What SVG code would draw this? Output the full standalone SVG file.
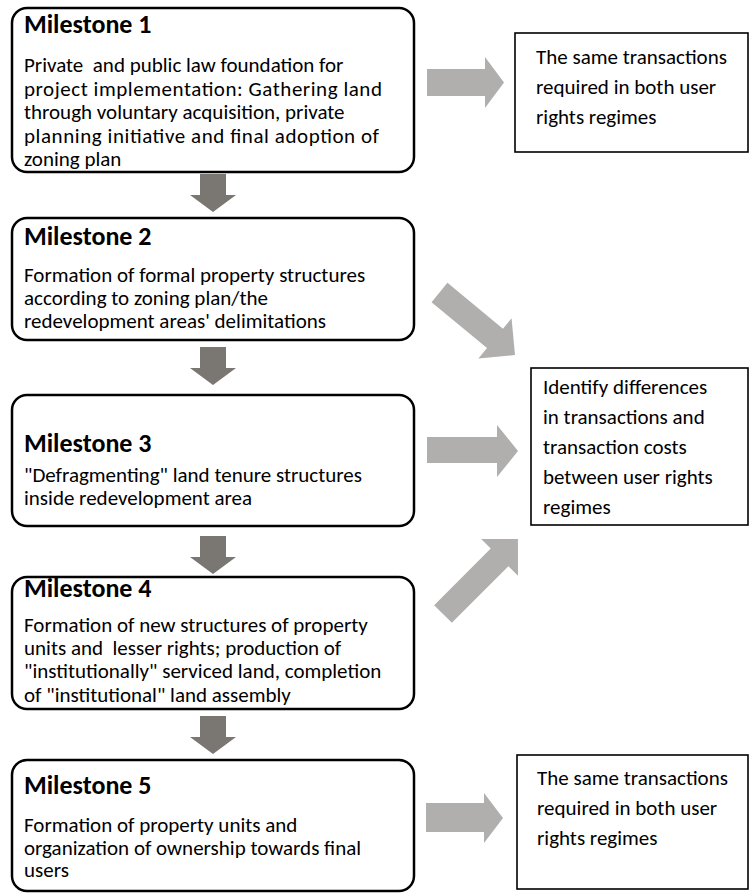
<svg xmlns="http://www.w3.org/2000/svg" width="749" height="894" viewBox="0 0 749 894">
<style>
.ms{fill:#fff;stroke:#000;stroke-width:2.5}
.rb{fill:#fff;stroke:#000;stroke-width:1.6}
.t{font-family:Carlito,Lato,"Open Sans","Liberation Sans",sans-serif;font-size:26px;font-weight:bold;fill:#000}
.b{font-family:Carlito,Lato,"Open Sans","Liberation Sans",sans-serif;font-size:21px;fill:#000}
.r{font-family:Carlito,Lato,"Open Sans","Liberation Sans",sans-serif;font-size:21px;fill:#000}
.da{fill:#7a7672}
.sa{fill:#b0afad}
</style>
<defs>
<path id="down" d="M-13,0 L13,0 L13,21 L23,21 L0,38 L-23,21 L-13,21 Z"/>
</defs>
<g id="connectors">
<use href="#down" class="da" x="213" y="174"/>
<use href="#down" class="da" x="213" y="347"/>
<use href="#down" class="da" x="213" y="536"/>
<use href="#down" class="da" x="213" y="716"/>
<path class="sa" d="M427,69 L485,69 L485,57 L504,82.5 L485,108 L485,96 L427,96 Z"/>
<path class="sa" d="M427,437 L497,437 L497,425 L518,451 L497,477 L497,463 L427,463 Z"/>
<path class="sa" d="M426,803 L484,803 L484,793 L503,818 L484,843 L484,832 L426,832 Z"/>
<path class="sa" transform="translate(439.5,292.5) rotate(39.6)" d="M0,-12.5 L72,-12.5 L72,-26 L98,0 L72,26 L72,12.5 L0,12.5 Z"/>
<path class="sa" transform="translate(443,614) rotate(-45)" d="M0,-12.5 L80,-12.5 L80,-26 L106,0 L80,26 L80,12.5 L0,12.5 Z"/>
</g>
<g id="milestone1">
<rect class="ms" x="12" y="8" width="402" height="164" rx="15"/>
<text class="t" x="24" y="33">Milestone 1</text>
<text class="b" x="24" y="72" xml:space="preserve">Private  and public law foundation for</text>
<text class="b" x="24" y="95.5" textLength="358">project implementation: Gathering land</text>
<text class="b" x="24" y="119">through voluntary acquisition, private</text>
<text class="b" x="24" y="142.5" textLength="355">planning initiative and final adoption of</text>
<text class="b" x="24" y="166">zoning plan</text>
</g>
<g id="milestone2">
<rect class="ms" x="12" y="218" width="402" height="122" rx="15"/>
<text class="t" x="24" y="245">Milestone 2</text>
<text class="b" x="24" y="282">Formation of formal property structures</text>
<text class="b" x="24" y="305">according to zoning plan/the</text>
<text class="b" x="24" y="328">redevelopment areas' delimitations</text>
</g>
<g id="milestone3">
<rect class="ms" x="12" y="395" width="402" height="131" rx="15"/>
<text class="t" x="24" y="452">Milestone 3</text>
<text class="b" x="24" y="482">"Defragmenting" land tenure structures</text>
<text class="b" x="24" y="505">inside redevelopment area</text>
</g>
<g id="milestone4">
<rect class="ms" x="12" y="577" width="402" height="132" rx="15"/>
<text class="t" x="24" y="597">Milestone 4</text>
<text class="b" x="24" y="632">Formation of new structures of property</text>
<text class="b" x="24" y="655" xml:space="preserve">units and  lesser rights; production of</text>
<text class="b" x="24" y="678">"institutionally" serviced land, completion</text>
<text class="b" x="24" y="702">of "institutional" land assembly</text>
</g>
<g id="milestone5">
<rect class="ms" x="12" y="760" width="402" height="131" rx="15"/>
<text class="t" x="24" y="794">Milestone 5</text>
<text class="b" x="24" y="832">Formation of property units and</text>
<text class="b" x="24" y="855">organization of ownership towards final</text>
<text class="b" x="24" y="877">users</text>
</g>
<g id="same1">
<rect class="rb" x="515" y="33" width="233" height="119"/>
<text class="r" x="536" y="64">The same transactions</text>
<text class="r" x="536" y="94">required in both user</text>
<text class="r" x="536" y="124">rights regimes</text>
</g>
<g id="differences">
<rect class="rb" x="531" y="368" width="217" height="157"/>
<text class="r" x="543" y="394">Identify differences</text>
<text class="r" x="543" y="424">in transactions and</text>
<text class="r" x="543" y="454">transaction costs</text>
<text class="r" x="543" y="484">between user rights</text>
<text class="r" x="543" y="514">regimes</text>
</g>
<g id="same2">
<rect class="rb" x="517" y="755" width="231" height="134"/>
<text class="r" x="537" y="785">The same transactions</text>
<text class="r" x="537" y="815">required in both user</text>
<text class="r" x="537" y="845">rights regimes</text>
</g>
</svg>
